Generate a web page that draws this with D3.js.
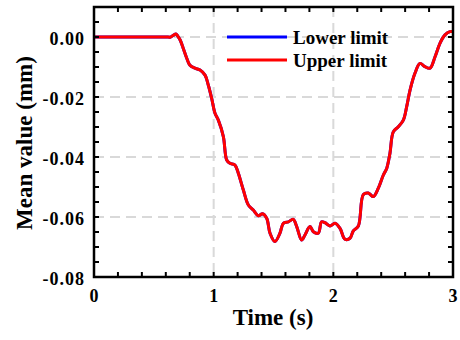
<!DOCTYPE html>
<html><head><meta charset="utf-8">
<script src="https://cdn.jsdelivr.net/npm/d3@7"></script>
<style>body{margin:0;background:#fff}svg{display:block}text{font-family:"Liberation Serif","Times New Roman",serif;font-weight:bold;fill:#000}</style>
</head><body>
<svg id="c" width="460" height="340"></svg>
<script>
const times = [0,0.6,0.64,0.66,0.685,0.70,0.72,0.746,0.775,0.80,0.844,0.886,0.928,0.955,0.983,1.011,1.039,1.081,1.109,1.136,1.178,1.206,1.248,1.290,1.331,1.373,1.408,1.443,1.471,1.512,1.554,1.582,1.624,1.665,1.694,1.735,1.763,1.805,1.833,1.874,1.902,1.930,1.972,2.014,2.056,2.097,2.139,2.167,2.209,2.251,2.292,2.334,2.376,2.418,2.446,2.473,2.501,2.543,2.585,2.613,2.641,2.682,2.724,2.766,2.808,2.850,2.891,2.933,2.975,3.0];
const upperLimit = [0,0,0,0.0005,0.001,0.0003,-0.001,-0.0038,-0.0071,-0.0093,-0.0104,-0.011,-0.0127,-0.016,-0.0204,-0.0254,-0.0277,-0.0332,-0.041,-0.0421,-0.0427,-0.0454,-0.051,-0.056,-0.0577,-0.0596,-0.0589,-0.0604,-0.0654,-0.0682,-0.0654,-0.0621,-0.0616,-0.0608,-0.0632,-0.0677,-0.066,-0.0632,-0.0649,-0.0654,-0.0616,-0.0619,-0.063,-0.0621,-0.0638,-0.0674,-0.0671,-0.0646,-0.063,-0.0525,-0.052,-0.0532,-0.0504,-0.046,-0.0438,-0.0388,-0.0316,-0.0299,-0.0277,-0.0232,-0.0177,-0.0121,-0.0088,-0.0099,-0.0104,-0.0066,-0.0021,0.0007,0.0018,0.0018];
const lowerLimit = upperLimit.slice();
const xTicks = [0,1,2,3];
const yTicks = [0,-0.02,-0.04,-0.06,-0.08];
const seriesNames = ["Lower limit","Upper limit"];
const seriesColors = ["#0000ff","#ff0000"];

const svg = d3.select("#c");
const L=94,R=453,T=7,B=277;
const x = d3.scaleLinear().domain([0,3]).range([L,R]);
const y = d3.scaleLinear().domain([-0.08,0.01]).range([B,T]);

// grid
const g = svg.append("g");
g.selectAll(".gy").data([0,-0.02,-0.04,-0.06]).join("line")
  .attr("x1",L).attr("x2",R).attr("y1",d=>y(d)).attr("y2",d=>y(d))
  .attr("stroke","#d9d9d9").attr("stroke-width",2).attr("stroke-dasharray","10,6");
g.selectAll(".gx").data([1,2]).join("line")
  .attr("y1",T).attr("y2",B).attr("x1",d=>x(d)).attr("x2",d=>x(d))
  .attr("stroke","#d9d9d9").attr("stroke-width",2).attr("stroke-dasharray","10,6");

// lines
const pts = (vals)=>times.map((t,i)=>[t,vals[i]]);
const line = d3.line().x(d=>x(d[0])).y(d=>y(d[1])).curve(d3.curveCatmullRom);
svg.append("path").attr("d",line(pts(lowerLimit))).attr("fill","none").attr("stroke",seriesColors[0]).attr("stroke-width",3);
svg.append("path").attr("d",line(pts(upperLimit))).attr("fill","none").attr("stroke",seriesColors[1]).attr("stroke-width",3);

// axes with inward ticks
const minorX = d3.range(0,3.0001,0.2);
const minorY = d3.range(-0.08,0.0101,0.005);
const ax = svg.append("g").attr("stroke","#000").attr("stroke-width",2);
minorX.forEach(v=>{
  ax.append("line").attr("x1",x(v)).attr("x2",x(v)).attr("y1",B).attr("y2",B-5);
  ax.append("line").attr("x1",x(v)).attr("x2",x(v)).attr("y1",T).attr("y2",T+5);
});
minorY.forEach(v=>{
  ax.append("line").attr("y1",y(v)).attr("y2",y(v)).attr("x1",L).attr("x2",L+5);
  ax.append("line").attr("y1",y(v)).attr("y2",y(v)).attr("x1",R).attr("x2",R-5);
});
svg.append("rect").attr("x",L).attr("y",T).attr("width",R-L).attr("height",B-T)
  .attr("fill","none").attr("stroke","#000").attr("stroke-width",2.5);

// tick labels
svg.selectAll(".xl").data(xTicks).join("text")
  .attr("x",d=>x(d)).attr("y",B+25).attr("text-anchor","middle").attr("font-size",18)
  .text(d=>d3.format("d")(d));
svg.selectAll(".yl").data(yTicks).join("text")
  .attr("x",L-9).attr("y",d=>y(d)+7.5).attr("text-anchor","end").attr("font-size",18)
  .attr("letter-spacing",1)
  .text(d=>d3.format(".2f")(d).replace("−","-"));

// titles
svg.append("text").attr("x",273).attr("y",325).attr("text-anchor","middle").attr("font-size",23).text("Time (s)");
svg.append("text").attr("transform",`translate(32,143) rotate(-90)`).attr("text-anchor","middle").attr("font-size",23).text("Mean value (mm)");

// legend
seriesNames.forEach((n,i)=>{
  const yy = 37 + i*23;
  svg.append("line").attr("x1",227).attr("x2",287).attr("y1",yy).attr("y2",yy).attr("stroke",seriesColors[i]).attr("stroke-width",3);
  svg.append("text").attr("x",293).attr("y",yy+6.5).attr("font-size",19).text(n);
});
</script>
</body></html>
